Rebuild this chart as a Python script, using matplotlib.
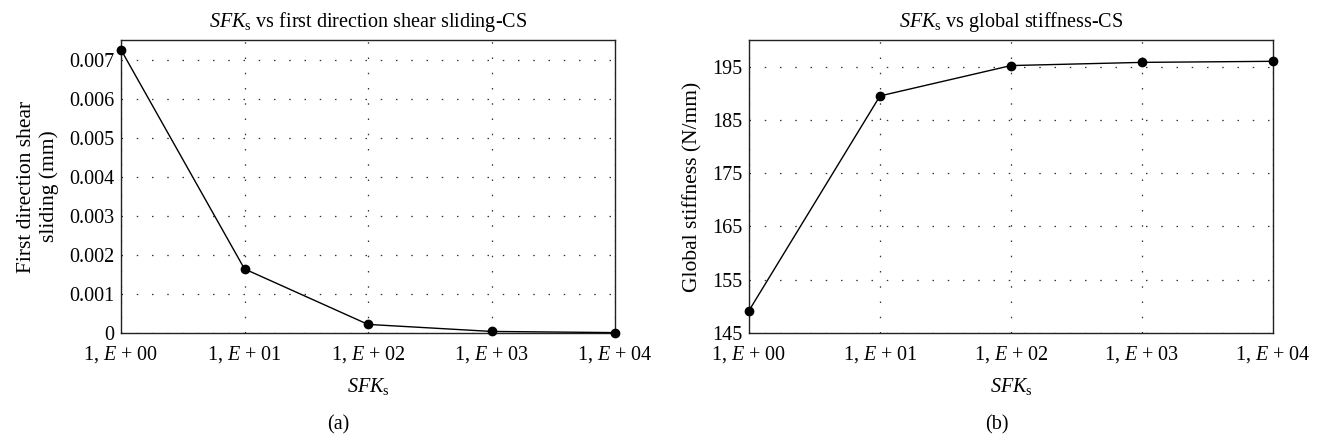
import numpy as np
import matplotlib.pyplot as plt

# SFKs values (log spaced) and tick labels
sfk = [1, 10, 100, 1000, 10000]
tick_labels = [r'1, $E$ + 00', r'1, $E$ + 01', r'1, $E$ + 02', r'1, $E$ + 03', r'1, $E$ + 04']

# panel (a): first direction shear sliding (mm)
sliding = [0.00725, 0.00164, 0.00022, 0.00004, 0.00001]
# panel (b): global stiffness (N/mm)
stiffness = [149.2, 189.5, 195.2, 195.8, 196.0]

plt.rcParams['font.family'] = ['Liberation Serif', 'DejaVu Serif']
plt.rcParams['mathtext.fontset'] = 'custom'
plt.rcParams['mathtext.rm'] = 'Liberation Serif'
plt.rcParams['mathtext.it'] = 'Liberation Serif:italic'

fig = plt.figure(figsize=(13.17, 4.41), dpi=100)
ax1 = fig.add_axes([121/1317, 1 - 333/441, (615-121)/1317, (333-40)/441])
ax2 = fig.add_axes([749/1317, 1 - 333/441, (1273-749)/1317, (333-40)/441])

def style(ax, title, ylabel):
    ax.set_xscale('log')
    ax.set_xlim(1, 10000)
    ax.set_xticks(sfk)
    ax.set_xticklabels(tick_labels)
    ax.minorticks_off()
    ax.tick_params(length=0, labelsize=14.5)
    ax.tick_params(axis='x', pad=8)
    ax.tick_params(axis='y', pad=5)
    ax.grid(True, linestyle=(0, (1.2, 11)), color='#333333', linewidth=0.9)
    ax.set_title(title, fontsize=14.5, pad=9)
    ax.set_xlabel(r'$SFK_\mathrm{s}$', fontsize=14.5, labelpad=8)
    ax.set_ylabel(ylabel, fontsize=15.5, labelpad=7)
    for s in ax.spines.values():
        s.set_linewidth(1.0)
        s.set_color('#222222')

ax1.plot(sfk, sliding, color='black', linewidth=1.0, marker='o', markersize=6,
         clip_on=False, zorder=5)
ax1.set_ylim(0, 0.0075)
ax1.set_yticks([0, 0.001, 0.002, 0.003, 0.004, 0.005, 0.006, 0.007])
ax1.set_yticklabels(['0', '0.001', '0.002', '0.003', '0.004', '0.005', '0.006', '0.007'])
style(ax1, r'$SFK_\mathrm{s}$ vs first direction shear sliding-CS',
      'First direction shear\nsliding (mm)')

ax2.plot(sfk, stiffness, color='black', linewidth=1.0, marker='o', markersize=6,
         clip_on=False, zorder=5)
ax2.set_ylim(145, 200)
ax2.set_yticks([145, 155, 165, 175, 185, 195])
style(ax2, r'$SFK_\mathrm{s}$ vs global stiffness-CS', 'Global stiffness (N/mm)')

fig.text(338/1317, 1 - 425/441, '(a)', ha='center', va='center', fontsize=14.5)
fig.text(997/1317, 1 - 425/441, '(b)', ha='center', va='center', fontsize=14.5)

plt.savefig('out.png', dpi=100)
